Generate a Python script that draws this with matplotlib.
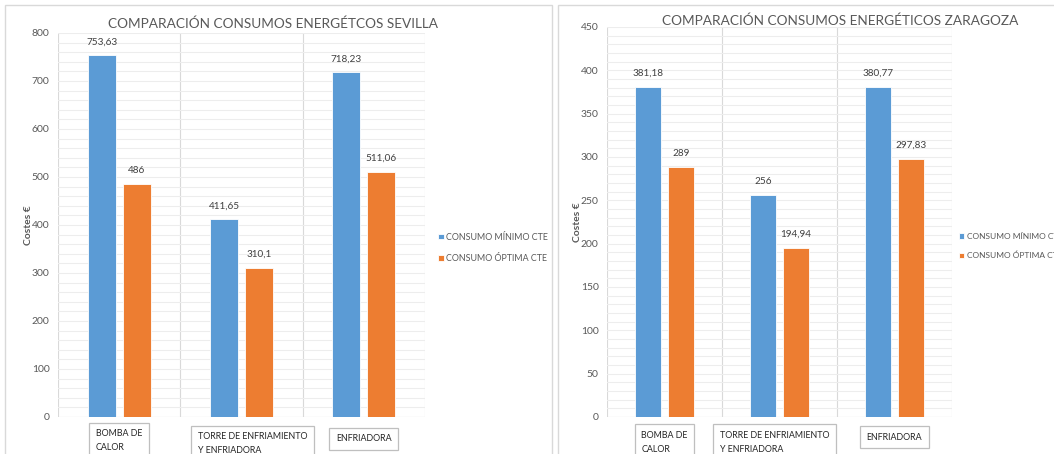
import matplotlib
matplotlib.use("Agg")
import matplotlib.pyplot as plt
import numpy as np
from matplotlib.patches import Rectangle
from matplotlib.ticker import MultipleLocator
from matplotlib.transforms import blended_transform_factory

plt.rcParams['font.family'] = ['Lato', 'DejaVu Sans']

# ---- data ----
categorias = ["BOMBA DE\nCALOR", "TORRE DE ENFRIAMIENTO\nY ENFRIADORA", "ENFRIADORA"]
series = ["CONSUMO MÍNIMO CTE", "CONSUMO ÓPTIMA CTE"]
sevilla_minimo = [753.63, 411.65, 718.23]
sevilla_optima = [486, 310.1, 511.06]
zaragoza_minimo = [381.18, 256, 380.77]
zaragoza_optima = [289, 194.94, 297.83]

AZUL = "#5B9BD5"
NARANJA = "#ED7D31"
GRIS_TXT = "#595959"
GRIS_LIN = "#D9D9D9"


def fmt(v):
    s = f"{v:.2f}".rstrip("0").rstrip(".")
    return s.replace(".", ",")


fig = plt.figure(figsize=(10.54, 4.54), dpi=100)
fig.patch.set_facecolor("white")

# worksheet frames behind the two charts
for (x0, x1) in [(5, 552), (558, 1060)]:
    fig.patches.append(Rectangle((x0 / 1054, -0.1), (x1 - x0) / 1054, (454 - 5) / 454 + 0.1,
                                 transform=fig.transFigure, facecolor="white",
                                 edgecolor=GRIS_LIN, linewidth=1.0, zorder=-5))


def chart(rect, minimo, optima, titulo, ymax, major, minor, title_xy, legend_xy,
          legend_size, box_shift, box_y, width):
    ax = fig.add_axes(rect)
    ax.set_zorder(1)
    ax.patch.set_alpha(0)
    x = np.arange(len(categorias))
    off = 0.143
    b1 = ax.bar(x - off, minimo, width, color=AZUL, edgecolor="white", linewidth=0.6,
                label=series[0], zorder=3)
    b2 = ax.bar(x + off, optima, width, color=NARANJA, edgecolor="white", linewidth=0.6,
                label=series[1], zorder=3)
    for bars, vals in ((b1, minimo), (b2, optima)):
        for r, v in zip(bars, vals):
            ax.annotate(fmt(v), (r.get_x() + r.get_width() / 2, v), xytext=(0, 6.5),
                        textcoords="offset points", ha="center", va="bottom",
                        fontsize=7.2, color="#404040")
    ax.set_xlim(-0.5, len(categorias) - 0.5)
    ax.set_ylim(0, ymax)
    ax.yaxis.set_major_locator(MultipleLocator(major))
    ax.yaxis.set_minor_locator(MultipleLocator(minor))
    ax.grid(axis="y", which="both", color="#EDEDED", linewidth=0.8, zorder=0)
    for b in np.arange(-0.5, len(categorias), 1.0):
        ax.axvline(b, color=GRIS_LIN, linewidth=0.8, zorder=1)
    for s in ax.spines.values():
        s.set_visible(False)
    ax.axhline(0, color=GRIS_LIN, linewidth=0.8, zorder=2)
    ax.tick_params(axis="y", which="both", length=0, labelsize=7.5, labelcolor=GRIS_TXT, pad=6)
    ax.tick_params(axis="x", length=0, labelbottom=False)
    ax.set_ylabel("Costes €", fontsize=7.5, color=GRIS_TXT, fontweight="bold", labelpad=-1)
    trans = blended_transform_factory(ax.transData, ax.transAxes)
    for i, c in enumerate(categorias):
        ax.text(i + box_shift[i], box_y[i], c, transform=trans, ha="center", va="top",
                multialignment="left", fontsize=6.4, color="#262626", linespacing=1.7,
                bbox=dict(boxstyle="square,pad=0.75", facecolor="white", edgecolor="#BFBFBF",
                          linewidth=0.9), clip_on=False)
    fig.text(title_xy[0] / 1054, 1 - title_xy[1] / 454, titulo, ha="center", va="center",
             fontsize=9.8, color=GRIS_TXT)
    fig.legend(handles=[b1, b2], loc="center left",
               bbox_to_anchor=(legend_xy[0] / 1054, 1 - legend_xy[1] / 454),
               frameon=False, prop={'size': legend_size}, labelcolor=GRIS_TXT,
               handlelength=0.6, handleheight=0.6, handletextpad=0.3, labelspacing=1.4,
               borderpad=0)
    return ax


chart([58 / 1054, 37 / 454, 367 / 1054, 384 / 454], sevilla_minimo, sevilla_optima,
      "COMPARACIÓN CONSUMOS ENERGÉTCOS SEVILLA", 800, 100, 20, (273, 24), (434, 248), 6.4,
      [0.0, 0.09, 0.0], [-0.032, -0.04, -0.045], 0.229)
chart([607 / 1054, 37 / 454, 345 / 1054, 390 / 454], zaragoza_minimo, zaragoza_optima,
      "COMPARACIÓN CONSUMOS ENERGÉTICOS ZARAGOZA", 450, 50, 10, (840, 21), (955, 246), 6.0,
      [0.0, -0.04, 0.0], [-0.035, -0.035, -0.04], 0.225)

fig.savefig("out.png", dpi=100)
